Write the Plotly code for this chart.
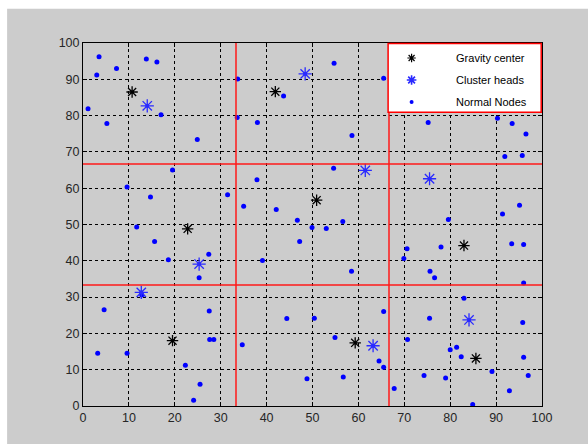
import plotly.graph_objects as go

# ---- data ----
normal_x = [1.1, 3.0, 3.5, 7.3, 5.2, 13.8, 16.1, 17.0, 24.9, 19.5, 9.6, 14.7, 11.7, 31.5, 33.7,
            33.6, 35.0, 38.0, 37.9, 43.7, 42.1, 46.7,
            54.7, 65.5, 58.6, 54.6, 75.2, 49.9, 53.0, 56.6, 79.6, 91.4, 95.1, 90.3, 93.5, 96.5,
            91.9, 95.7,
            15.6, 18.6, 27.4, 25.3, 12.8, 4.6, 27.5, 3.2, 9.6, 27.6, 28.5, 22.3, 25.5, 24.1,
            34.7, 39.1, 44.4, 47.2,
            70.6, 69.9, 78.0, 93.4, 96.0, 58.5, 75.6, 76.6, 96.0, 83.0, 65.5, 50.4, 75.5, 95.8,
            54.9, 70.7, 81.4, 80.0, 82.4, 96.0, 64.5, 65.5, 89.1, 48.8, 56.7, 74.3, 79.0, 97.0,
            67.8, 92.9, 84.9]
normal_y = [81.9, 91.2, 96.2, 93.0, 77.8, 95.6, 94.8, 80.2, 73.4, 65.0, 60.3, 57.6, 49.3, 58.2, 90.1,
            79.5, 55.0, 78.1, 62.3, 85.4, 54.1, 51.2,
            94.4, 90.3, 74.5, 65.5, 78.1, 49.2, 48.9, 50.8, 51.4, 52.9, 55.3, 79.3, 77.8, 74.9,
            68.7, 69.0,
            45.3, 40.3, 41.8, 35.3, 30.6, 26.5, 26.2, 14.5, 14.5, 18.3, 18.3, 11.2, 6.0, 1.6,
            16.9, 40.1, 24.1, 45.3,
            43.3, 40.6, 43.8, 44.7, 44.5, 37.1, 37.1, 35.3, 33.9, 29.7, 26.0, 24.2, 24.2, 23.0,
            18.9, 18.3, 16.2, 15.5, 13.6, 13.4, 12.4, 10.7, 9.5, 7.5, 8.0, 8.4, 7.7, 8.4,
            4.8, 4.2, 0.4]

head_x = [14.0, 48.4, 61.5, 75.5, 25.3, 12.7, 84.1, 63.2]
head_y = [82.7, 91.5, 64.9, 62.6, 39.1, 31.3, 23.7, 16.6]

center_x = [10.7, 41.9, 22.8, 50.9, 83.0, 19.5, 59.3, 85.6]
center_y = [86.5, 86.6, 48.8, 56.7, 44.2, 18.0, 17.4, 13.1]

partition = [100 / 3, 200 / 3]
ticks = list(range(0, 101, 10))
names = ["Gravity center", "Cluster heads", "Normal Nodes"]

BLUE = "#0000ff"
HEAD = "#2a2aff"
NB = "\u00a0"
PAD_L = NB * 8
PAD_R = NB * 3

fig = go.Figure()

# plotted marks
fig.add_trace(go.Scatter(
    x=normal_x, y=normal_y, mode="markers", showlegend=False,
    marker=dict(symbol="circle", size=5, color=BLUE, line=dict(width=0))))
fig.add_trace(go.Scatter(
    x=head_x, y=head_y, mode="markers", showlegend=False,
    marker=dict(symbol="asterisk-open", size=11, color=HEAD,
                line=dict(width=1.3, color=HEAD))))
fig.add_trace(go.Scatter(
    x=head_x, y=head_y, mode="markers", showlegend=False, hoverinfo="skip",
    marker=dict(symbol="circle", size=4, color=HEAD, line=dict(width=0))))
fig.add_trace(go.Scatter(
    x=center_x, y=center_y, mode="markers", showlegend=False,
    marker=dict(symbol="asterisk-open", size=9.5, color="#000000",
                line=dict(width=1.3, color="#000000"))))

# legend entries (smaller symbols, as MATLAB draws them in the legend)
fig.add_trace(go.Scatter(
    x=[None], y=[None], mode="markers", name=PAD_L + names[0] + PAD_R,
    legendrank=1, legendgroup="a",
    marker=dict(symbol="asterisk-open", size=7, color="#000000",
                line=dict(width=1.2, color="#000000"))))
fig.add_trace(go.Scatter(
    x=[None], y=[None], mode="markers", name=PAD_L + names[1] + PAD_R,
    legendrank=2, legendgroup="b",
    marker=dict(symbol="asterisk-open", size=8, color=HEAD,
                line=dict(width=1.6, color=HEAD))))
fig.add_trace(go.Scatter(
    x=[None], y=[None], mode="markers", name=PAD_L + names[2] + PAD_R,
    legendrank=3, legendgroup="c",
    marker=dict(symbol="circle", size=4, color=BLUE, line=dict(width=0))))

# red partition lines
for p in partition:
    fig.add_shape(type="line", xref="x", yref="y", x0=p, x1=p, y0=0, y1=100,
                  line=dict(color="#ff1a1a", width=1.5), layer="above")
    fig.add_shape(type="line", xref="x", yref="y", x0=0, x1=100, y0=p, y1=p,
                  line=dict(color="#ff1a1a", width=1.5), layer="above")

# legend box
PW, PH = 459.6, 362.7
fig.add_shape(type="rect", xref="paper", yref="paper",
              x0=(388.5 - 83) / PW, x1=(541.8 - 83) / PW,
              y0=(406 - 112.5) / PH, y1=(406 - 43.8) / PH,
              fillcolor="#ffffff", line=dict(color="#ff0000", width=1.5), layer="above")

# grey figure panel (MATLAB figure window)
fig.add_shape(type="rect", xref="paper", yref="paper",
              x0=(7 - 83) / PW, x1=(590 - 83) / PW,
              y0=(406 - 444) / PH, y1=(406 - 9) / PH,
              fillcolor="#cccccc", line=dict(width=0), layer="below")

axis_common = dict(range=[0, 100], tickvals=ticks, ticktext=[str(t) for t in ticks],
                   showgrid=True, gridcolor="#000000", griddash="dot", gridwidth=1,
                   showline=True, linecolor="#000000", linewidth=1, mirror="ticks",
                   ticks="inside", ticklen=4, tickcolor="#000000", zeroline=False,
                   tickfont=dict(family="Liberation Sans, Arial", size=12.5, color="#262626"))

fig.update_xaxes(**axis_common)
fig.update_yaxes(**axis_common)

fig.update_layout(
    width=588, height=445,
    margin=dict(l=83, r=46, t=43, b=39, pad=0),
    paper_bgcolor="#ffffff", plot_bgcolor="#ffffff",
    showlegend=True,
    legend=dict(x=(392 - 83) / PW, y=1 - 0.5 / PH, xanchor="left", yanchor="top",
                bgcolor="rgba(0,0,0,0)", borderwidth=0, tracegroupgap=3,
                font=dict(family="Liberation Sans, Arial", size=11, color="#000000")),
)

fig.write_html("out.html", config={"displayModeBar": False},
               post_script="document.body.style.margin='0px';document.body.style.padding='0px';")
